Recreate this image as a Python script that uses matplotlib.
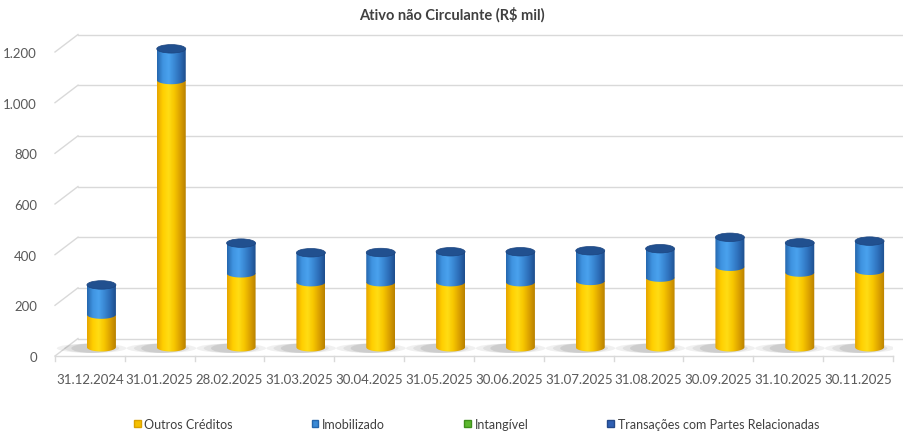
import numpy as np
import matplotlib
matplotlib.use("Agg")
import matplotlib.pyplot as plt
from matplotlib.path import Path
from matplotlib.patches import PathPatch, Ellipse, Patch
from matplotlib.colors import LinearSegmentedColormap

plt.rcParams['font.family'] = ['Lato', 'DejaVu Sans']

# dados (R$ mil)
datas = ['31.12.2024', '31.01.2025', '28.02.2025', '31.03.2025', '30.04.2025', '31.05.2025',
         '30.06.2025', '31.07.2025', '31.08.2025', '30.09.2025', '31.10.2025', '30.11.2025']
outros_creditos = [129, 1055, 292, 257, 257, 257, 257, 262, 275, 318, 295, 302]
imobilizado = [117, 123, 119, 116, 117, 120, 120, 119, 114, 116, 117, 117]
intangivel = [0] * 12
transacoes = [0] * 12
y_ticks = [0, 200, 400, 600, 800, 1000, 1200]

W, H = 904, 439
fig = plt.figure(figsize=(W / 100, H / 100), dpi=100)
x0, x1, y0px = 55, 893, 357
px_y = (357 - 53) / 1200.0    # pixels por unidade
ymax = 1300
ax = fig.add_axes([x0 / W, (H - y0px) / H, (x1 - x0) / W, ymax * px_y / H])
ax.set_xlim(-0.5, 11.5)
ax.set_ylim(0, ymax)

px_x = (x1 - x0) / 12.0          # pixels por categoria
# profundidade (parede do fundo) em unidades de dados
dxb, dyb = 23 / px_x, 17.5 / px_y
dxm, dym = dxb / 2, dyb / 2

grid_c = '#d9d9d9'
# grade na parede do fundo + diagonais na lateral
for v in y_ticks:
    ax.plot([-0.5 + dxb, 11.5 + dxb], [v + dyb, v + dyb], color=grid_c, lw=1, zorder=1, clip_on=False)
    ax.plot([-0.5, -0.5 + dxb], [v, v + dyb], color=grid_c, lw=1, zorder=1, clip_on=False)
# eixo frontal e marcas
ax.plot([-0.5, 11.5], [0, 0], color=grid_c, lw=1, zorder=1, clip_on=False)
for b in np.arange(-0.5, 12, 1):
    ax.plot([b, b], [0, -5 / px_y], color=grid_c, lw=1, zorder=1, clip_on=False)

yellow = LinearSegmentedColormap.from_list('y', ['#e6a400', '#ffcf00', '#ffdc14', '#f7c600', '#dca200', '#b88000'])
blue = LinearSegmentedColormap.from_list('b', ['#2566ad', '#3f93e0', '#4aa2ee', '#3a88d4', '#2c6cb6', '#1d4d8c'])
grad = np.linspace(0, 1, 128)[np.newaxis, :]

bw = 29 / px_x
eh = 8.5 / px_y


def cylinder_seg(cx, ya, yb, cmap, z):
    t = np.linspace(np.pi, 2 * np.pi, 50)
    bx = cx + bw / 2 * np.cos(t)
    by = ya + eh / 2 * np.sin(t)
    verts = [(cx - bw / 2, yb)] + list(zip(bx, by)) + [(cx + bw / 2, yb), (cx - bw / 2, yb)]
    codes = [Path.MOVETO] + [Path.LINETO] * (len(verts) - 2) + [Path.CLOSEPOLY]
    patch = PathPatch(Path(verts, codes), facecolor='none', edgecolor='none', transform=ax.transData)
    ax.add_patch(patch)
    im = ax.imshow(grad, cmap=cmap, aspect='auto', extent=(cx - bw / 2, cx + bw / 2, ya - eh, yb),
                   zorder=z, interpolation='bilinear')
    im.set_clip_path(patch)


for i in range(len(datas)):
    cx = i + dxm
    base = dym
    # sombra no piso
    for k, a in zip([2.4, 1.9, 1.4], [0.10, 0.12, 0.16]):
        ax.add_patch(Ellipse((cx - 0.14, base - 1 / px_y), bw * k, eh * 1.1, facecolor='#6f6f6f',
                             edgecolor='none', alpha=a, zorder=2))
    levels = [outros_creditos[i], imobilizado[i], intangivel[i], transacoes[i]]
    cmaps = [yellow, blue, blue, blue]
    acc = 0
    for j, (v, cm) in enumerate(zip(levels, cmaps)):
        if v <= 0:
            continue
        cylinder_seg(cx, base + acc, base + acc + v, cm, 3 + j)
        acc += v
    ax.add_patch(Ellipse((cx, base + acc), bw, eh, facecolor='#21508f', edgecolor='#1c4580',
                         lw=0.5, zorder=10))

ax.set_xlim(-0.5, 11.5)
ax.set_ylim(0, ymax)
for s in ax.spines.values():
    s.set_visible(False)
ax.set_yticks(y_ticks)
ax.set_yticklabels([f"{v:,.0f}".replace(",", ".") for v in y_ticks])
ax.set_xticks(range(len(datas)))
ax.set_xticklabels(datas)
ax.tick_params(axis='y', length=0, pad=13, labelsize=9.5, labelcolor='#595959')
ax.tick_params(axis='x', length=0, pad=12, labelsize=9.5, labelcolor='#595959')

fig.text(0.5, 1 - 15 / H, 'Ativo não Circulante (R$ mil)', ha='center', va='center',
         fontsize=10.5, fontweight='bold', color='#404040')

handles = [Patch(facecolor='#f5c000', edgecolor='#d9a000'),
           Patch(facecolor='#3a8ad6', edgecolor='#2566ad'),
           Patch(facecolor='#5cb82e', edgecolor='#3f8f1c'),
           Patch(facecolor='#2f5fb3', edgecolor='#24498a')]
labels = ['Outros Créditos', 'Imobilizado', 'Intangível', 'Transações com Partes Relacionadas']
fig.legend(handles, labels, loc='center', bbox_to_anchor=(0.527, 1 - 425 / H), ncol=4, frameon=False,
           fontsize=9, handlelength=0.55, handleheight=0.55, handletextpad=0.3, columnspacing=6.3,
           labelcolor='#404040')

fig.savefig('out.png', dpi=100)
